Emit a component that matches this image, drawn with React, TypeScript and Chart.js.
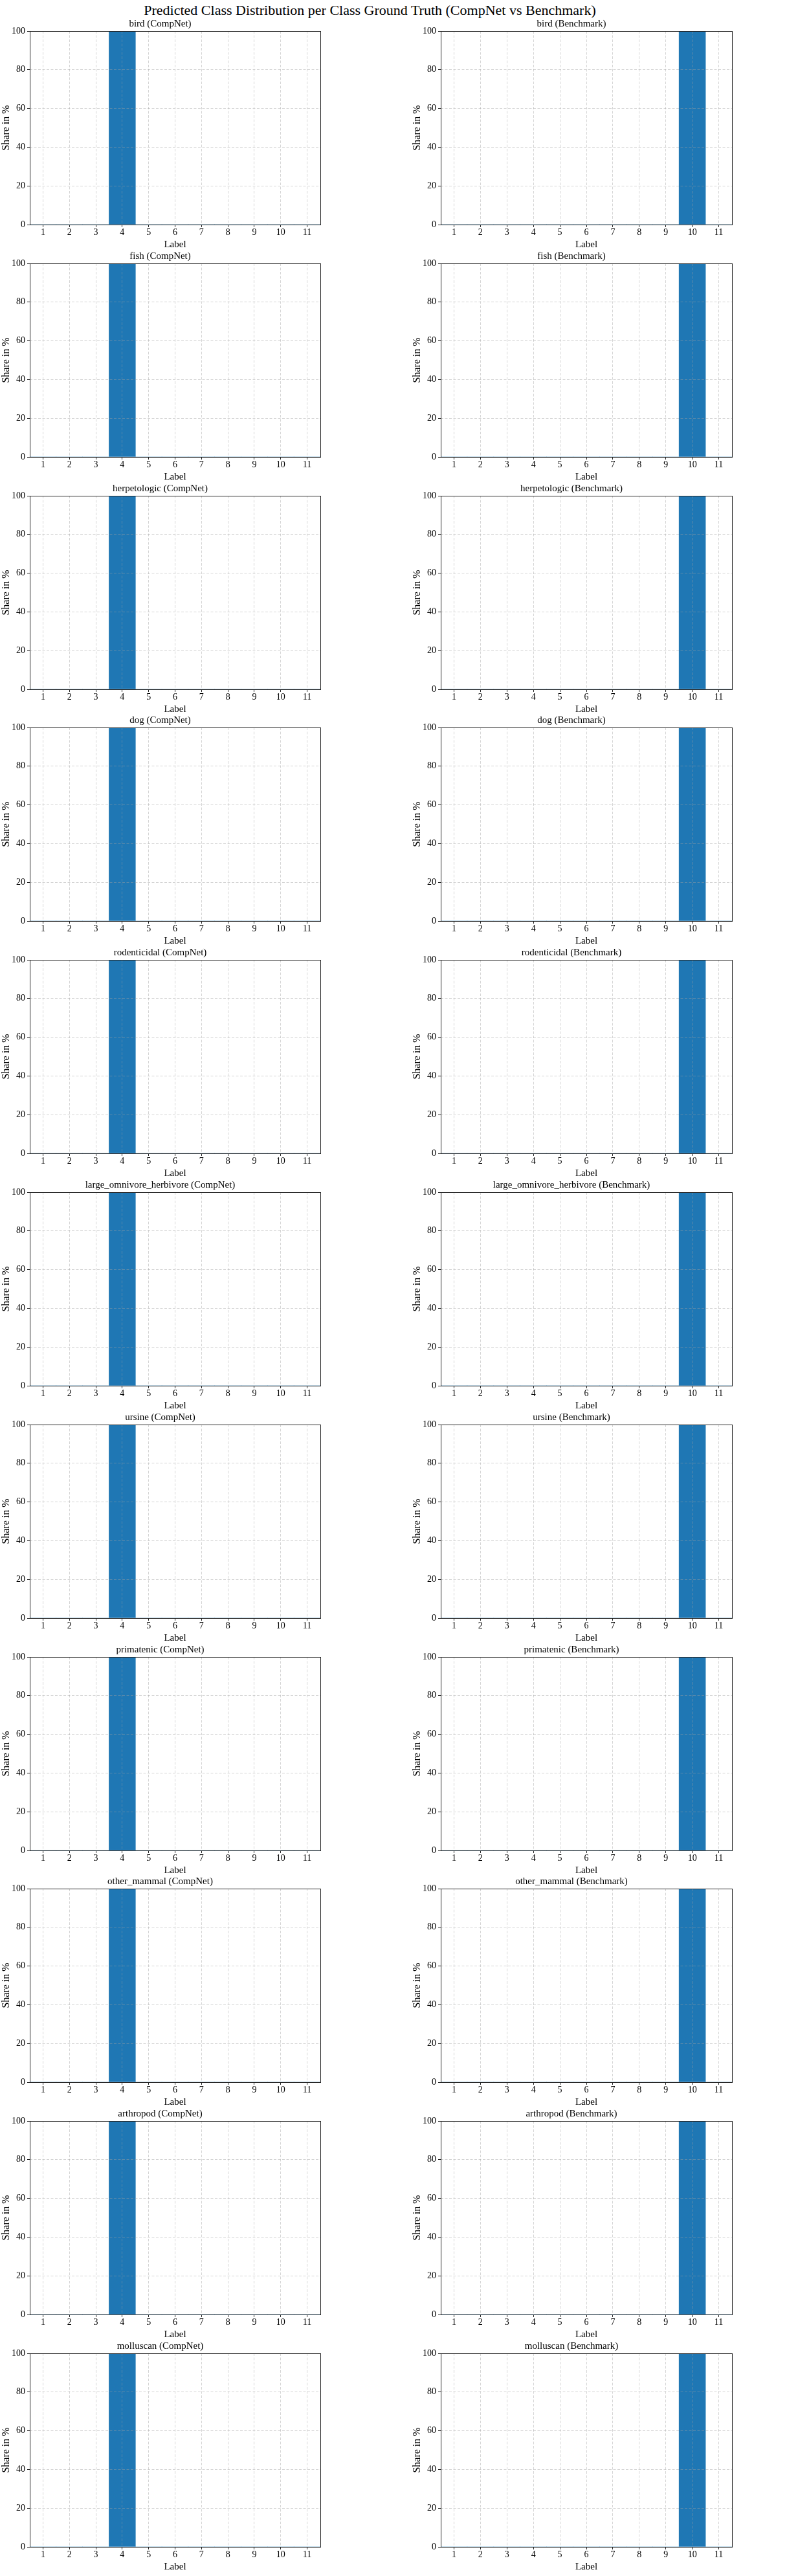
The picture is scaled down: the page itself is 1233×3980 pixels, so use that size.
import React, { useEffect, useRef } from "react";
import { Chart, registerables } from "chart.js";

Chart.register(...registerables);

// ---- data ----
const SUPTITLE = "Predicted Class Distribution per Class Ground Truth (CompNet vs Benchmark)";
const LABELS = ["1", "2", "3", "4", "5", "6", "7", "8", "9", "10", "11"];
const CLASSES = [
  "bird",
  "fish",
  "herpetologic",
  "dog",
  "rodenticidal",
  "large_omnivore_herbivore",
  "ursine",
  "primatenic",
  "other_mammal",
  "arthropod",
  "molluscan",
];
const MODELS = ["CompNet", "Benchmark"];
// share in % of predictions per label, one row per ground-truth class
const COMPNET_SHARE: number[][] = [
  [0, 0, 0, 100, 0, 0, 0, 0, 0, 0, 0],
  [0, 0, 0, 100, 0, 0, 0, 0, 0, 0, 0],
  [0, 0, 0, 100, 0, 0, 0, 0, 0, 0, 0],
  [0, 0, 0, 100, 0, 0, 0, 0, 0, 0, 0],
  [0, 0, 0, 100, 0, 0, 0, 0, 0, 0, 0],
  [0, 0, 0, 100, 0, 0, 0, 0, 0, 0, 0],
  [0, 0, 0, 100, 0, 0, 0, 0, 0, 0, 0],
  [0, 0, 0, 100, 0, 0, 0, 0, 0, 0, 0],
  [0, 0, 0, 100, 0, 0, 0, 0, 0, 0, 0],
  [0, 0, 0, 100, 0, 0, 0, 0, 0, 0, 0],
  [0, 0, 0, 100, 0, 0, 0, 0, 0, 0, 0],
];
const BENCHMARK_SHARE: number[][] = [
  [0, 0, 0, 0, 0, 0, 0, 0, 0, 100, 0],
  [0, 0, 0, 0, 0, 0, 0, 0, 0, 100, 0],
  [0, 0, 0, 0, 0, 0, 0, 0, 0, 100, 0],
  [0, 0, 0, 0, 0, 0, 0, 0, 0, 100, 0],
  [0, 0, 0, 0, 0, 0, 0, 0, 0, 100, 0],
  [0, 0, 0, 0, 0, 0, 0, 0, 0, 100, 0],
  [0, 0, 0, 0, 0, 0, 0, 0, 0, 100, 0],
  [0, 0, 0, 0, 0, 0, 0, 0, 0, 100, 0],
  [0, 0, 0, 0, 0, 0, 0, 0, 0, 100, 0],
  [0, 0, 0, 0, 0, 0, 0, 0, 0, 100, 0],
  [0, 0, 0, 0, 0, 0, 0, 0, 0, 100, 0],
];
const Y_TICKS = [0, 20, 40, 60, 80, 100];
const X_TITLE = "Label";
const Y_TITLE = "Share in %";

// ---- style / layout ----
const FONT = "'Liberation Serif', 'DejaVu Serif', serif";
const BAR_COLOR = "#1f77b4";
const GRID_COLOR = "rgba(160,160,160,0.45)";
const ROW_PITCH = 358.8;
const CANVAS_H = 361;
const COLS = [
  { left: 0, width: 613, padLeft: 0, padRight: 118 },
  { left: 613, width: 620, padLeft: 22, padRight: 102 },
];

const framePlugin = {
  id: "frame",
  afterDraw(chart: any) {
    const { ctx, chartArea } = chart;
    const a = (v: number) => Math.round(v - 0.5) + 0.5;
    ctx.save();
    ctx.strokeStyle = "#222";
    ctx.lineWidth = 1;
    ctx.setLineDash([]);
    const l = a(chartArea.left);
    const t = a(chartArea.top);
    const r = a(chartArea.right);
    const b = a(chartArea.bottom);
    ctx.strokeRect(l, t, r - l, b - t);
    ctx.restore();
  },
};

function Panel({ row, col }: { row: number; col: number }) {
  const ref = useRef<HTMLCanvasElement | null>(null);
  const c = COLS[col];
  const top = Math.round(row * ROW_PITCH + 27);
  useEffect(() => {
    if (!ref.current) return;
    const values = col === 0 ? COMPNET_SHARE[row] : BENCHMARK_SHARE[row];
    const chart = new Chart(ref.current, {
      type: "bar",
      data: {
        labels: LABELS,
        datasets: [
          {
            data: values,
            backgroundColor: BAR_COLOR,
            borderWidth: 0,
            barPercentage: 1,
            categoryPercentage: 1,
          },
        ],
      },
      plugins: [framePlugin],
      options: {
        animation: false,
        responsive: false,
        devicePixelRatio: 1,
        events: [],
        layout: { padding: { top: 1, bottom: 0, left: c.padLeft, right: c.padRight } },
        plugins: {
          legend: { display: false },
          tooltip: { enabled: false },
          title: {
            display: true,
            text: `${CLASSES[row]} (${MODELS[col]})`,
            color: "#000",
            font: { family: FONT, size: 15, weight: "normal", lineHeight: 1.2 },
            padding: { top: 0, bottom: 2 },
          },
        },
        scales: {
          x: {
            type: "category",
            offset: true,
            afterFit: (s: any) => {
              s.height = 41;
            },
            grid: {
              offset: false,
              color: GRID_COLOR,
              lineWidth: 1,
              tickColor: "#222",
              tickLength: 4,
              tickBorderDash: [],
              z: 1,
            },
            border: { display: false, color: "#222", width: 1, dash: [4, 2.5], z: 1 },
            ticks: {
              color: "#000",
              padding: 0,
              maxRotation: 0,
              autoSkip: false,
              font: { family: FONT, size: 14, lineHeight: 1.2 },
            },
            title: {
              display: true,
              text: X_TITLE,
              color: "#000",
              font: { family: FONT, size: 15, lineHeight: 1.2 },
              padding: { top: 0, bottom: 1 },
            },
          },
          y: {
            min: Y_TICKS[0],
            max: Y_TICKS[Y_TICKS.length - 1],
            afterFit: (s: any) => {
              s.width = 46;
            },
            afterBuildTicks: (s: any) => {
              s.ticks = Y_TICKS.map((v) => ({ value: v }));
            },
            grid: {
              color: GRID_COLOR,
              lineWidth: 1,
              tickColor: "#222",
              tickLength: 4,
              tickBorderDash: [],
              z: 1,
            },
            border: { display: false, color: "#222", width: 1, dash: [4, 2.5], z: 1 },
            ticks: {
              color: "#000",
              padding: 3,
              font: { family: FONT, size: 14, lineHeight: 1.2 },
            },
            title: {
              display: true,
              text: Y_TITLE,
              color: "#000",
              font: { family: FONT, size: 16, lineHeight: 1.2 },
              padding: { top: 0, bottom: 0 },
            },
          },
        },
      },
    } as any);
    return () => chart.destroy();
  }, [row, col]);
  return (
    <canvas
      ref={ref}
      width={c.width}
      height={CANVAS_H}
      style={{ position: "absolute", left: c.left, top, width: c.width, height: CANVAS_H }}
    />
  );
}

export default function App() {
  return (
    <div
      style={{
        position: "absolute",
        left: 0,
        top: 0,
        width: 1233,
        height: 3980,
        background: "#fff",
        overflow: "hidden",
      }}
    >
      <div
        style={{
          position: "absolute",
          left: 0,
          top: 3,
          width: 1143,
          textAlign: "center",
          fontFamily: FONT,
          fontSize: 22,
          lineHeight: "26px",
          color: "#000",
          whiteSpace: "nowrap",
        }}
      >
        {SUPTITLE}
      </div>
      {CLASSES.map((_, r) =>
        MODELS.map((__, ci) => <Panel key={`${r}-${ci}`} row={r} col={ci} />)
      )}
    </div>
  );
}
